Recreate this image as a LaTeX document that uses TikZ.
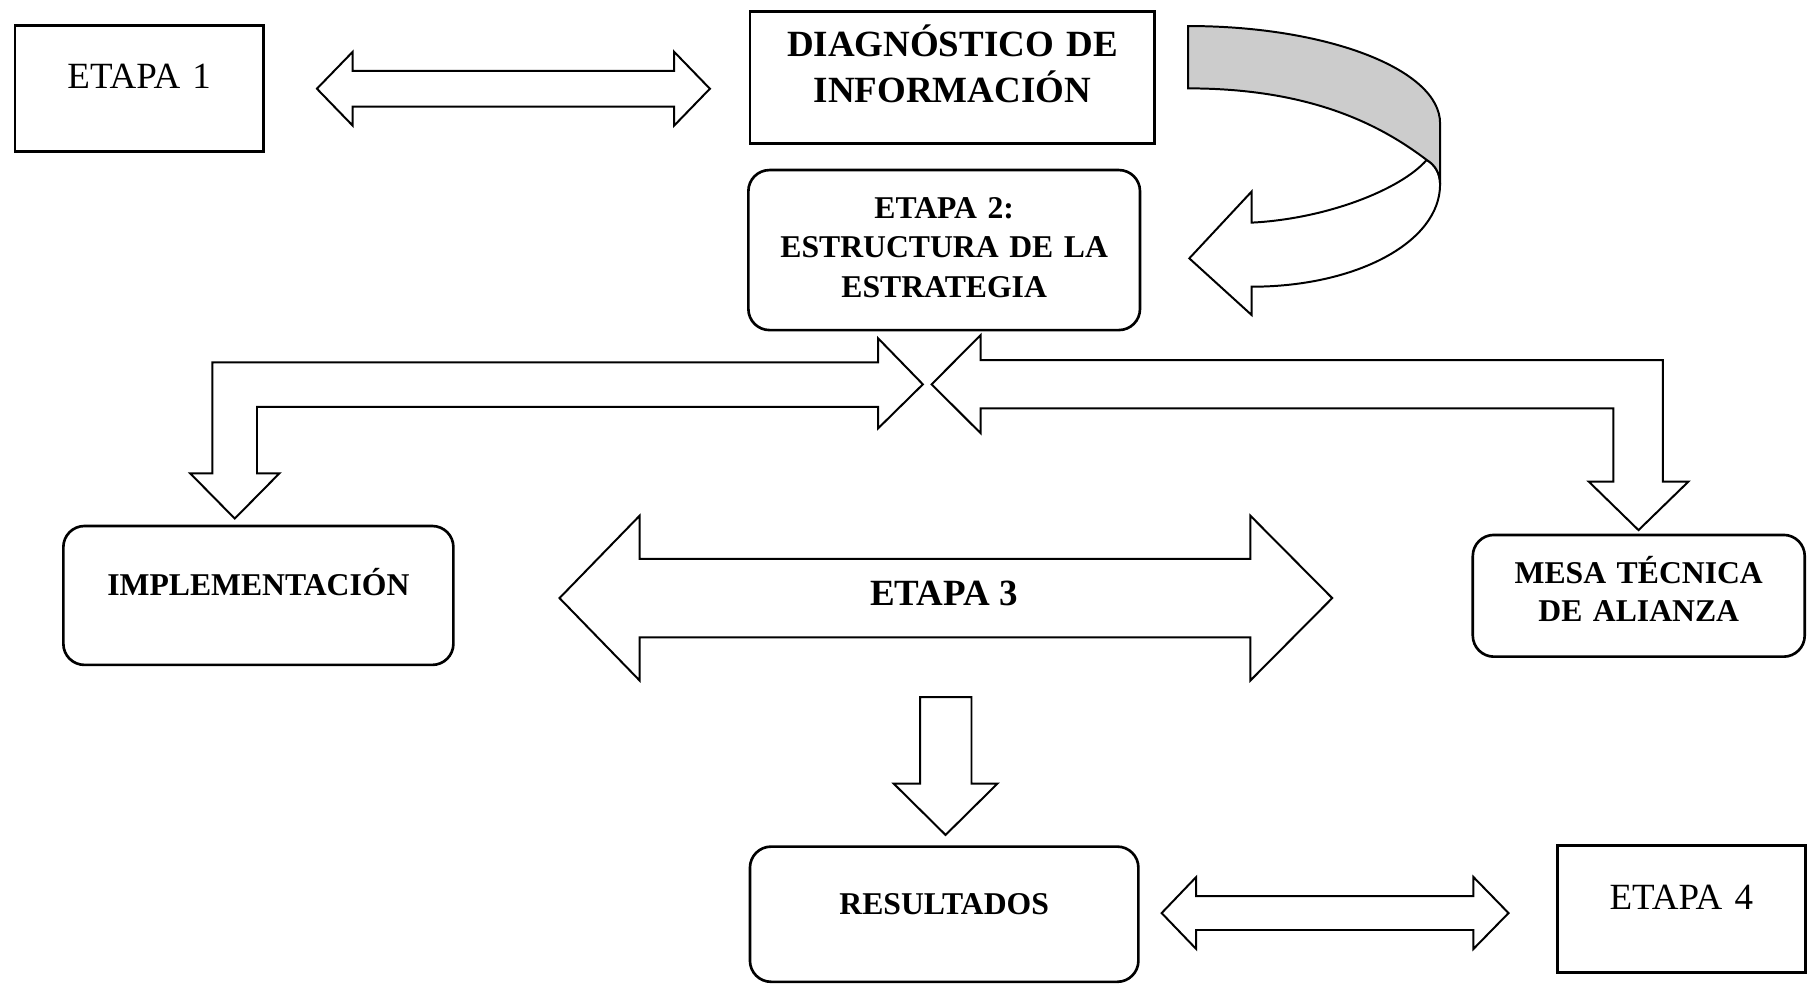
\documentclass[tikz,border=0pt]{standalone}
\usepackage{fontspec}
\setmainfont{Liberation Serif}
\usetikzlibrary{calc}

\begin{document}
\begin{tikzpicture}[x=0.4364pt, y=-0.4364pt,
    etapabox/.style={draw, line width=1pt, inner sep=0pt, align=center, text height=8pt, text depth=8pt, font=\fontsize{14}{17}\selectfont},
    roundbox/.style={draw, line width=1pt, rounded corners=8pt, inner sep=0pt, align=center, text height=8pt, text depth=8pt, font=\bfseries\fontsize{12}{15}\selectfont},
    blockarrow/.style={draw, line width=0.75pt, fill=white, line join=miter}]
      \useasboundingbox (0,0) rectangle (1568,854);

      \node[etapabox, text width=94pt, minimum height=47.7pt] (etapaUno) at (120.8,77) {ETAPA 1};
      \node[etapabox, font=\bfseries\fontsize{14}{17.4}\selectfont, text width=153.3pt, minimum height=49.9pt, text height=10pt, text depth=25.8pt] (diag) at (826.4,67.3) {DIAGNÓSTICO DE\\INFORMACIÓN};
      \node[roundbox, text width=148.3pt, minimum height=60.6pt, text height=9pt, text depth=33pt] (etapaDos) at (819.3,217) {ETAPA 2:\\ESTRUCTURA DE LA\\ESTRATEGIA};
      \node[roundbox, text width=147.7pt, minimum height=52.6pt] (implem) at (224.2,516.7) {IMPLEMENTACIÓN};
      \node[roundbox, font=\bfseries\fontsize{12}{14.5}\selectfont, text width=125.7pt, minimum height=46.1pt, text height=9pt, text depth=18.4pt] (mesa) at (1422,517) {MESA TÉCNICA\\DE ALIANZA};
      \node[roundbox, text width=147.1pt, minimum height=51.2pt] (result) at (819.3,793.3) {RESULTADOS};
      \node[etapabox, text width=93.8pt, minimum height=48.1pt] (etapaCuatro) at (1459,789) {ETAPA 4};

      % flechas dobles
      \draw[blockarrow] (275,77) -- (306,45) -- (306,61.5) -- (585,61.5) -- (585,45) -- (616,77) -- (585,109) -- (585,92.5) -- (306,92.5) -- (306,109) -- cycle;
      \draw[blockarrow] (485.5,519) -- (555,447.5) -- (555,485) -- (1085,485) -- (1085,447.5) -- (1156,519) -- (1085,590.5) -- (1085,553) -- (555,553) -- (555,590.5) -- cycle;
      \draw[blockarrow] (1008,792.3) -- (1038,761) -- (1038,777.5) -- (1278.5,777.5) -- (1278.5,761) -- (1309,792.3) -- (1278.5,823.5) -- (1278.5,807) -- (1038,807) -- (1038,823.5) -- cycle;
      \node[font=\bfseries\fontsize{14}{17}\selectfont, anchor=base] (etapaTres) at (819,525) {ETAPA 3};

      % flecha hacia resultados
      \draw[blockarrow] (798.5,605) -- (843,605) -- (843,680) -- (865.5,680) -- (820.5,724.5) -- (775.5,680) -- (798.5,680) -- cycle;

      % flechas en codo
      \draw[blockarrow] (203.7,450) -- (242.5,410.7) -- (223,410.7) -- (223,353) -- (762,353) -- (762,371.7) -- (800.8,333.5) -- (762,293.6) -- (762,314.4) -- (184.2,314.4) -- (184.2,410.7) -- (165,410.7) -- cycle;
      \draw[blockarrow] (808.4,333.5) -- (851,290.7) -- (851,312.4) -- (1443,312.4) -- (1443,418) -- (1465,418) -- (1421.8,460) -- (1378.7,418) -- (1400,418) -- (1400,354.3) -- (851,354.3) -- (851,376) -- cycle;

      % flecha curva
      \draw[blockarrow] (1238,138.8) .. controls (1215,165) and (1150,190) .. (1086,193.2) -- (1086,166.3) -- (1032,224.2) -- (1086,273.3) -- (1086,248.8) .. controls (1176.3,248.8) and (1249.6,210.5) .. (1249.6,160) .. controls (1249.6,150) and (1245,143) .. (1238,138.8) -- cycle;
      \draw[blockarrow, fill=black!20] (1031,22.6) .. controls (1151.7,22.6) and (1249.6,60.4) .. (1249.6,107) -- (1249.6,160) .. controls (1249.6,150) and (1245,143) .. (1238,138.8) .. controls (1200,110) and (1140,76.7) .. (1031,76.7) -- cycle;
    \end{tikzpicture}
\end{document}
